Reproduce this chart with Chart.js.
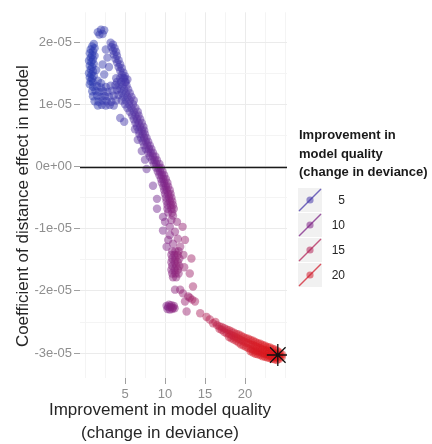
<!DOCTYPE html>
<html>
<head>
<meta charset="utf-8">
<script src="https://cdn.jsdelivr.net/npm/chart.js@4.4.1/dist/chart.umd.min.js"></script>
<style>
  html, body { margin: 0; padding: 0; background: #fff; }
  #wrap { position: relative; width: 432px; height: 444px; font-family: "Liberation Sans", Arial, sans-serif; }
  #plot { position: absolute; left: 0; top: 0; }
  .xtitle { position: absolute; left: 0; top: 398px; width: 320px; text-align: center;
            font-size: 17px; line-height: 23px; color: #262626; }
  .legend { position: absolute; left: 298px; top: 126px; }
  .legend .ttl { font-weight: bold; font-size: 13px; line-height: 18.5px; color: #1a1a1a; margin-left: 1px; white-space: nowrap; }
  .legend .row { position: relative; height: 25px; }
  .legend .key { position: absolute; left: 0; top: 0; width: 24px; height: 24px; background: #f1f1f1; }
  .legend .lab { position: absolute; left: 26px; width: 21px; top: 0; line-height: 24px; text-align: right;
                 font-size: 12px; color: #262626; }
</style>
</head>
<body>
<div id="wrap">
  <canvas id="plot" width="432" height="444"></canvas>
  <div class="xtitle">Improvement in model quality<br>(change in deviance)</div>
  <div class="legend" id="legend">
    <div class="ttl">Improvement in<br>model quality<br>(change in deviance)</div>
    <div id="keys" style="margin-top:6px"></div>
  </div>
</div>
<script>
// Each model: [improvement in deviance, distance coefficient in units of 1e-5]
const COEF_UNIT = 1e-5;
const yTitle = 'Coefficient of distance effect in model';

const crest = [[1.6,2.16],[2.0,2.20],[2.4,2.19],[1.8,2.12],[2.2,2.13]];

const leftColumn = [
  [1.1,1.97],[0.9,1.93],[1.2,1.90],[0.7,1.88],[1.0,1.85],[0.6,1.82],[0.9,1.79],[1.2,1.78],
  [0.7,1.75],[1.0,1.72],[0.5,1.70],[0.8,1.68],[1.1,1.65],[0.6,1.62],[0.9,1.60],[0.7,1.56],
  [1.0,1.53],[0.5,1.50],[0.8,1.48],[1.1,1.46],[0.6,1.43],[0.9,1.41],[0.7,1.37],[1.0,1.35],[0.6,1.32]
];

const innerRing = [[2.6,1.88],[2.2,1.64],[3.0,1.60],[2.4,1.48],[1.6,1.38],[2.0,1.34],[2.8,1.75],[1.4,1.55]];

const secondColumn = [
  [3.2,1.99],[3.5,1.96],[3.3,1.92],[3.7,1.90],[3.5,1.86],[3.9,1.84],[3.6,1.80],[4.0,1.78],
  [3.8,1.73],[4.2,1.71],[4.0,1.67],[4.4,1.64],[4.2,1.60],[4.6,1.58],[4.4,1.54],[4.8,1.51],
  [4.6,1.47],[5.0,1.45],[4.8,1.42],[5.3,1.40],[5.1,1.36]
];

const blueBlob = [
  [1.0,1.28],[1.5,1.29],[2.0,1.27],[2.6,1.28],[3.2,1.30],[3.8,1.31],
  [0.9,1.21],[1.3,1.22],[1.8,1.20],[2.3,1.21],[2.8,1.20],[3.4,1.22],[4.0,1.23],
  [1.0,1.13],[1.5,1.14],[2.0,1.12],[2.5,1.13],[3.0,1.12],[3.6,1.14],[4.2,1.15],
  [1.2,1.05],[1.7,1.04],[2.2,1.06],[2.7,1.05],[3.3,1.04],[3.9,1.06],
  [1.6,0.98],[2.1,0.99],[2.6,0.98],[3.1,0.99],[3.6,0.98]
];

const mainBand = [
  [3.9,1.42],[4.4,1.42],[4.9,1.42],[4.0,1.36],[4.5,1.36],[5.0,1.36],
  [4.2,1.30],[4.7,1.30],[5.2,1.30],[4.4,1.24],[4.9,1.24],[5.4,1.24],
  [4.6,1.18],[5.1,1.18],[5.6,1.18],[4.8,1.12],[5.3,1.12],[5.8,1.12],
  [4.6,1.06],[5.1,1.06],[5.6,1.06],[6.1,1.06],[5.0,1.00],[5.5,1.00],[6.0,1.00],
  [5.3,0.94],[5.8,0.94],[6.3,0.94],[5.6,0.88],[6.1,0.88],[6.6,0.88],
  [5.9,0.82],[6.3,0.82],[6.7,0.82],[6.1,0.76],[6.5,0.76],[6.9,0.76],
  [6.3,0.70],[6.7,0.70],[7.1,0.70],[6.5,0.64],[6.9,0.64],[7.3,0.64],
  [6.7,0.58],[7.1,0.58],[7.4,0.58],[6.8,0.52],[7.2,0.52],[7.5,0.52],
  [7.0,0.46],[7.4,0.46],[7.7,0.46],[7.2,0.40],[7.6,0.40],[7.9,0.40],
  [7.4,0.34],[7.8,0.34],[8.1,0.34],[7.6,0.28],[8.0,0.28],[8.3,0.28],
  [7.9,0.22],[8.2,0.22],[8.5,0.22],[8.1,0.16],[8.5,0.16],[8.8,0.16],
  [8.4,0.10],[8.7,0.10],[9.0,0.10],[8.6,0.04],[8.9,0.04],[9.3,0.04],
  [8.9,-0.02],[9.2,-0.02],[9.5,-0.02],[9.1,-0.08],[9.4,-0.08],[9.7,-0.08],
  [9.3,-0.14],[9.6,-0.14],[9.9,-0.14],[9.5,-0.20],[9.8,-0.20],[10.1,-0.20],
  [9.6,-0.26],[9.9,-0.26],[10.3,-0.26],[9.8,-0.32],[10.1,-0.32],[10.4,-0.32],
  [9.9,-0.38],[10.2,-0.38],[10.6,-0.38],[10.0,-0.44],[10.4,-0.44],[10.7,-0.44],
  [10.1,-0.50],[10.5,-0.50],[10.8,-0.50],[10.2,-0.56],[10.6,-0.56],[10.9,-0.56],
  [10.3,-0.62],[10.7,-0.62],[11.0,-0.62],[10.3,-0.68],[10.8,-0.68],[11.1,-0.68],
  [10.4,-0.74],[10.9,-0.74]
];

const bandStrays = [
  [4.4,0.78],[4.9,0.72],[6.25,0.60],[6.6,0.43],[7.1,0.25],[7.5,0.11],
  [7.7,-0.04],[8.5,-0.31],[9.0,-0.52],[9.0,-0.68]
];

const midScatter = [
  [9.75,-0.81],[11.0,-0.79],[10.0,-0.89],[11.5,-0.89],[10.6,-0.97],[12.2,-0.97],
  [9.75,-1.03],[11.25,-1.05],[10.4,-1.18],[11.6,-1.16],[12.5,-1.18],[11.0,-1.24],
  [10.2,-1.29],[11.9,-1.29],[12.3,-1.42],[13.3,-1.48],[13.1,-1.72],[12.4,-1.62],
  [10.6,-1.10],[10.8,-0.86]
];

const midColumn = [
  [10.9,-1.36],[11.3,-1.36],[11.7,-1.36],[10.8,-1.42],[11.2,-1.42],[11.6,-1.42],
  [10.9,-1.48],[11.3,-1.48],[11.8,-1.48],[10.8,-1.54],[11.2,-1.54],[11.6,-1.54],
  [10.9,-1.60],[11.4,-1.60],[11.8,-1.60],[10.8,-1.66],[11.2,-1.66],[11.6,-1.66],
  [10.9,-1.72],[11.3,-1.72],[11.7,-1.72],[11.0,-1.78],[11.4,-1.78]
];

const lowerScatter = [
  [11.25,-1.98],[11.9,-1.98],[12.25,-2.04],[12.9,-2.09],[13.1,-2.11],[13.4,-2.14],
  [12.5,-2.17],[13.75,-2.17],[12.7,-2.33],[13.5,-1.93]
];

const lowerBlob = [
  [10.2,-2.24],[10.5,-2.22],[10.8,-2.23],[11.1,-2.24],[10.3,-2.29],[10.6,-2.30],
  [10.9,-2.29],[11.2,-2.28],[10.4,-2.26],[10.7,-2.26],[11.0,-2.27]
];

const tailStrays = [[14.4,-2.36],[15.2,-2.42],[15.6,-2.46],[16.0,-2.52],[16.3,-2.50]];

const redTail = [
  [16.5,-2.55],[16.8,-2.57],[16.8,-2.61],[17.1,-2.58],[17.1,-2.63],[17.4,-2.60],[17.4,-2.66],
  [17.7,-2.62],[17.7,-2.68],[18.0,-2.63],[18.0,-2.69],[18.0,-2.74],
  [18.3,-2.65],[18.3,-2.71],[18.3,-2.76],[18.6,-2.67],[18.6,-2.73],[18.6,-2.78],
  [18.9,-2.69],[18.9,-2.75],[18.9,-2.80],[19.2,-2.70],[19.2,-2.77],[19.2,-2.83],
  [19.5,-2.72],[19.5,-2.79],[19.5,-2.86],[19.8,-2.74],[19.8,-2.81],[19.8,-2.88],
  [20.1,-2.76],[20.1,-2.83],[20.1,-2.90],[20.4,-2.77],[20.4,-2.84],[20.4,-2.92],
  [20.7,-2.79],[20.7,-2.86],[20.7,-2.93],[20.7,-2.97],
  [21.0,-2.80],[21.0,-2.87],[21.0,-2.94],[21.0,-2.99],
  [21.3,-2.82],[21.3,-2.89],[21.3,-2.96],[21.3,-3.01],
  [21.6,-2.84],[21.6,-2.91],[21.6,-2.97],[21.6,-3.02],
  [21.9,-2.85],[21.9,-2.92],[21.9,-2.98],[21.9,-3.03],
  [22.2,-2.87],[22.2,-2.94],[22.2,-3.00],[22.2,-3.05],
  [22.5,-2.88],[22.5,-2.95],[22.5,-3.01],[22.5,-3.06],
  [22.8,-2.90],[22.8,-2.96],[22.8,-3.02],[22.8,-3.07],
  [23.1,-2.91],[23.1,-2.98],[23.1,-3.04],[23.1,-3.08],
  [23.4,-2.93],[23.4,-2.99],[23.4,-3.05],[23.4,-3.09],
  [23.7,-2.94],[23.7,-3.00],[23.7,-3.06],[23.7,-3.10],
  [24.0,-2.96],[24.0,-3.02],[24.0,-3.07],[24.0,-3.11],
  [24.3,-2.99],[24.3,-3.04],[24.3,-3.09],
  [24.6,-3.02],[24.6,-3.06]
];

// Selected (best) model, marked with a star
const bestDeviance = [24.1];
const bestCoef = [-3.03];

// Axis ticks and legend breaks
const xTicks = [0, 2.5, 5, 7.5, 10, 12.5, 15, 17.5, 20, 22.5, 25];
const xLabelled = [5, 10, 15, 20];
const yTicks = [-3, -2.5, -2, -1.5, -1, -0.5, 0, 0.5, 1, 1.5, 2];
const yLabelled = [-3, -2, -1, 0, 1, 2];
const legendBreaks = [5, 10, 15, 20];
const zeroLine = 0;

// Colour ramp for deviance improvement (blue -> purple -> red)
const ramp = [[0,[35,55,175]],[5,[70,55,170]],[10,[125,35,135]],[15,[178,35,88]],[20,[210,30,45]],[25,[222,15,15]]];
function shade(v, a) {
  let i = 0;
  while (i < ramp.length - 2 && v > ramp[i + 1][0]) i++;
  const [v0, c0] = ramp[i], [v1, c1] = ramp[i + 1];
  const t = Math.max(0, Math.min(1, (v - v0) / (v1 - v0)));
  const c = c0.map((k, j) => Math.round(k + (c1[j] - k) * t));
  return `rgba(${c[0]},${c[1]},${c[2]},${a})`;
}

const groups = [crest, leftColumn, innerRing, secondColumn, blueBlob, mainBand, bandStrays,
                midScatter, midColumn, lowerScatter, lowerBlob, tailStrays, redTail];
const modelPoints = [].concat(...groups).map(([d, c]) => ({ x: d, y: c * COEF_UNIT }));
const bestPoints = bestDeviance.map((d, i) => ({ x: d, y: bestCoef[i] * COEF_UNIT }));

const isLabelledX = v => xLabelled.some(t => Math.abs(t - v) < 1e-9);
const isLabelledY = v => yLabelled.some(t => Math.abs(t * COEF_UNIT - v) < 1e-12);
function fmtCoef(v) {
  const k = Math.round(v / COEF_UNIT);
  if (k === 0) return '0e+00';
  return (k < 0 ? '-' : '') + Math.abs(k) + 'e-05';
}

// Horizontal reference line at a zero coefficient
const zeroLinePlugin = {
  id: 'zeroLine',
  afterDatasetsDraw(chart) {
    const { ctx, chartArea, scales } = chart;
    const y = Math.round(scales.y.getPixelForValue(zeroLine)) + 0.5;
    ctx.save();
    ctx.strokeStyle = '#1a1a1a';
    ctx.lineWidth = 1.3;
    ctx.beginPath();
    ctx.moveTo(chartArea.left, y);
    ctx.lineTo(chartArea.right, y);
    ctx.stroke();
    ctx.restore();
  }
};

// Vertical axis title, placed beside the tick labels
const yTitlePlugin = {
  id: 'yTitle',
  afterDraw(chart) {
    const { ctx, chartArea } = chart;
    ctx.save();
    ctx.font = '17px "Liberation Sans", Arial, sans-serif';
    ctx.fillStyle = '#262626';
    ctx.textAlign = 'center';
    ctx.textBaseline = 'middle';
    ctx.translate(chartArea.left - 57, (chartArea.top + chartArea.bottom) / 2 + 11);
    ctx.rotate(-Math.PI / 2);
    ctx.fillText(yTitle, 0, 0);
    ctx.restore();
  }
};

const tickFont = { family: '"Liberation Sans", Arial, sans-serif', size: 13 };

new Chart(document.getElementById('plot'), {
  type: 'scatter',
  data: {
    datasets: [
      {
        label: 'best',
        data: bestPoints,
        order: 0,
        pointStyle: 'star',
        pointRadius: 11,
        borderColor: '#111',
        borderWidth: 1.3,
        backgroundColor: '#111'
      },
      {
        label: 'models',
        data: modelPoints,
        order: 1,
        pointRadius: 4.2,
        borderWidth: 0,
        backgroundColor: ctx => shade(ctx.raw ? ctx.raw.x : 10, 0.47)
      }
    ]
  },
  options: {
    responsive: false,
    animation: false,
    devicePixelRatio: 1,
    layout: { padding: { left: 0, top: 10, right: 145, bottom: 0 } },
    plugins: { legend: { display: false }, tooltip: { enabled: false } },
    scales: {
      x: {
        type: 'linear',
        min: -0.625,
        max: 25.25,
        afterBuildTicks: s => { s.ticks = xTicks.map(v => ({ value: v })); },
        afterFit: s => { s.height = 66; },
        border: { display: false },
        grid: {
          color: c => isLabelledX(c.tick.value) ? '#ebebeb' : '#f4f4f4',
          lineWidth: 1,
          tickLength: 6,
          tickColor: c => isLabelledX(c.tick.value) ? '#a0a0a0' : 'rgba(0,0,0,0)'
        },
        ticks: {
          autoSkip: false,
          maxRotation: 0,
          padding: 3,
          color: '#8e8e8e',
          font: tickFont,
          callback: v => isLabelledX(v) ? String(v) : ''
        }
      },
      y: {
        type: 'linear',
        min: -3.40 * COEF_UNIT,
        max: 2.479 * COEF_UNIT,
        afterBuildTicks: s => { s.ticks = yTicks.map(v => ({ value: v * COEF_UNIT })); },
        afterFit: s => { s.width = 80; },
        border: { display: false },
        grid: {
          color: c => isLabelledY(c.tick.value) ? '#ebebeb' : '#f4f4f4',
          lineWidth: 1,
          tickLength: 6,
          tickColor: c => isLabelledY(c.tick.value) ? '#a0a0a0' : 'rgba(0,0,0,0)'
        },
        ticks: {
          autoSkip: false,
          padding: 2,
          color: '#8e8e8e',
          font: tickFont,
          callback: v => isLabelledY(v) ? fmtCoef(v) : ''
        }
      }
    }
  },
  plugins: [zeroLinePlugin, yTitlePlugin]
});

// Legend keys: a slanted line with a point, coloured by break value
const keys = document.getElementById('keys');
legendBreaks.forEach(b => {
  const row = document.createElement('div');
  row.className = 'row';
  const col = shade(b, 0.75);
  const dot = shade(b, 0.55);
  row.innerHTML =
    `<div class="key"><svg width="24" height="24" viewBox="0 0 24 24">` +
    `<line x1="1" y1="23" x2="23" y2="1" stroke="${col}" stroke-width="1.4"/>` +
    `<circle cx="12" cy="12" r="3.6" fill="${dot}"/></svg></div>` +
    `<div class="lab">${b}</div>`;
  keys.appendChild(row);
});
</script>
</body>
</html>
